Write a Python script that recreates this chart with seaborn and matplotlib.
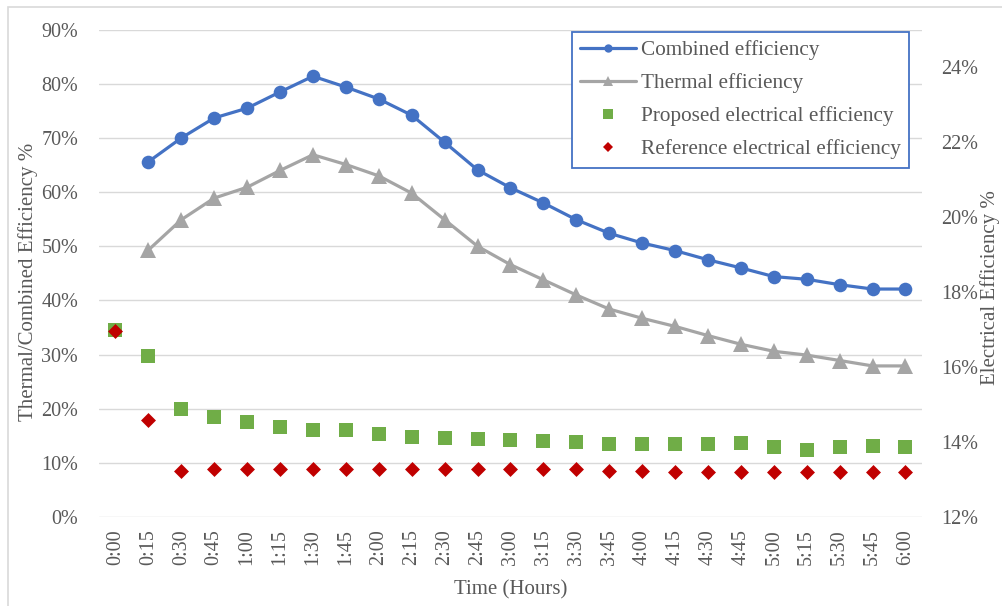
import numpy as np
import pandas as pd
import seaborn as sns
import matplotlib
matplotlib.use("Agg")
import matplotlib.pyplot as plt
from matplotlib.lines import Line2D
from matplotlib.patches import Rectangle
from matplotlib.ticker import FuncFormatter

# Time stamps (15-minute steps)
times = ["0:00", "0:15", "0:30", "0:45", "1:00", "1:15", "1:30", "1:45", "2:00",
         "2:15", "2:30", "2:45", "3:00", "3:15", "3:30", "3:45", "4:00", "4:15",
         "4:30", "4:45", "5:00", "5:15", "5:30", "5:45", "6:00"]

# Left axis series (%), no value at 0:00
combined = [np.nan, 65.6, 70.0, 73.7, 75.5, 78.5, 81.4, 79.4, 77.2, 74.2, 69.2,
            64.1, 60.8, 58.0, 54.9, 52.4, 50.6, 49.2, 47.5, 46.0, 44.4, 43.9,
            42.9, 42.1, 42.1]
thermal = [np.nan, 49.3, 54.9, 58.9, 60.9, 64.0, 66.9, 65.1, 63.0, 59.8, 54.9,
           50.0, 46.6, 43.8, 41.0, 38.4, 36.7, 35.2, 33.5, 31.9, 30.6, 29.9,
           28.9, 27.9, 27.9]

# Right axis series (%)
proposed_elec = [17.0, 16.3, 14.87, 14.67, 14.54, 14.41, 14.32, 14.32, 14.21,
                 14.14, 14.12, 14.09, 14.05, 14.04, 14.01, 13.96, 13.95, 13.96,
                 13.96, 13.98, 13.86, 13.79, 13.87, 13.89, 13.87]
reference_elec = [16.96, 14.59, 13.23, 13.27, 13.27, 13.27, 13.27, 13.27, 13.27,
                  13.27, 13.27, 13.27, 13.27, 13.27, 13.27, 13.23, 13.23, 13.21,
                  13.21, 13.21, 13.21, 13.21, 13.21, 13.21, 13.21]

series_names = ["Combined efficiency", "Thermal efficiency",
                "Proposed electrical efficiency", "Reference electrical efficiency"]

left_ticks = list(range(0, 91, 10))
right_ticks = list(range(12, 25, 2))

sns.set_style("white")
plt.rcParams["font.family"] = ["Liberation Serif", "DejaVu Serif"]

BLUE = "#4472C4"
GREY = "#A5A5A5"
GREEN = "#70AD47"
RED = "#C00000"
TXT = "#595959"
GRID = "#D9D9D9"

df = pd.DataFrame({"time": times, "combined": combined, "thermal": thermal,
                   "proposed": proposed_elec, "reference": reference_elec})
df["pos"] = np.arange(len(times))

fig = plt.figure(figsize=(10.03, 6.06), dpi=100)
ax = fig.add_axes([0.0987, 0.1469, 0.8205, 0.8041])
ax2 = ax.twinx()

sns.lineplot(data=df, x="pos", y="combined", ax=ax, color=BLUE, lw=2.3,
             marker="o", markersize=9.8, markeredgewidth=0, zorder=4)
sns.lineplot(data=df, x="pos", y="thermal", ax=ax, color=GREY, lw=2.3,
             marker="^", markersize=11, markeredgewidth=0, zorder=3)
sns.scatterplot(data=df, x="pos", y="proposed", ax=ax2, color=GREEN,
                marker="s", s=108, linewidth=0, zorder=3)
sns.scatterplot(data=df, x="pos", y="reference", ax=ax2, color=RED,
                marker="D", s=58, linewidth=0, zorder=4)

# Axes ranges and ticks
ax.set_xlim(-0.5, len(times) - 0.5)
ax.set_ylim(0, 90)
ax2.set_ylim(12, 25)
ax.set_xticks(df["pos"])
ax.set_xticklabels(times, rotation=90)
ax.set_yticks(left_ticks)
ax2.set_yticks(right_ticks)
ax.yaxis.set_major_formatter(FuncFormatter(lambda v, p: f"{v:.0f}%"))
ax2.yaxis.set_major_formatter(FuncFormatter(lambda v, p: f"{v:.0f}%"))

ax.grid(axis="y", color=GRID, lw=1.0)
ax.grid(axis="x", visible=False)
ax2.grid(False)
for a in (ax, ax2):
    for s in a.spines.values():
        s.set_visible(False)
ax.tick_params(axis="y", length=0, pad=15, labelsize=14.5, labelcolor=TXT)
ax.tick_params(axis="x", length=0, pad=9, labelsize=14.5, labelcolor=TXT)
ax2.tick_params(axis="y", length=0, pad=14, labelsize=14.5, labelcolor=TXT)

# Axis titles
ax.set_xlabel("Time (Hours)", fontsize=15, color=TXT)
ax.set_ylabel("Thermal/Combined Efficiency %", fontsize=15, color=TXT)
ax2.set_ylabel("Electrical Efficiency %", fontsize=15, color=TXT, rotation=90)
for lab in (ax.xaxis.label, ax.yaxis.label, ax2.yaxis.label):
    lab.set_verticalalignment("center")
    lab.set_horizontalalignment("center")
    lab.set_rotation_mode("default")
ax.xaxis.set_label_coords(0.5, -0.150)
ax.yaxis.set_label_coords(-0.086, 0.482)
ax2.yaxis.set_label_coords(1.083, 0.47)

# Legend
handles = [
    Line2D([], [], color=BLUE, lw=2.3, marker="o", markersize=6, markeredgewidth=0),
    Line2D([], [], color=GREY, lw=2.3, marker="^", markersize=7, markeredgewidth=0),
    Line2D([], [], color=GREEN, lw=0, marker="s", markersize=7, markeredgewidth=0),
    Line2D([], [], color=RED, lw=0, marker="D", markersize=5.5, markeredgewidth=0),
]
leg = ax2.legend(handles, series_names, loc="upper left",
                 bbox_to_anchor=(0.5747, 0.9959), borderaxespad=0,
                 fontsize=15.3, labelcolor=TXT, frameon=True, fancybox=False,
                 framealpha=1, edgecolor=BLUE, handlelength=2.6,
                 handletextpad=0.25, labelspacing=0.62, borderpad=0.4)
leg.get_frame().set_linewidth(1.3)
leg.set_zorder(10)

# Light chart border
fig.patches.append(Rectangle((8 / 1003, -0.2), 1.5, 1.2 - 7 / 606,
                             transform=fig.transFigure, fill=False,
                             edgecolor=GRID, lw=1.2, zorder=0))

fig.savefig("out.png", dpi=100)
